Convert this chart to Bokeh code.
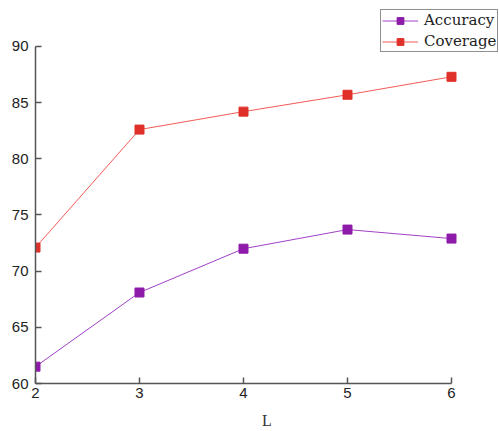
from bokeh.plotting import figure
from bokeh.models import Range1d, Legend, LegendItem, FixedTicker
from bokeh.embed import file_html
from bokeh.resources import INLINE

L = [2, 3, 4, 5, 6]
accuracy = [61.5, 68.1, 72.0, 73.7, 72.9]
coverage = [72.1, 82.6, 84.2, 85.7, 87.3]
y_ticks = [60, 65, 70, 75, 80, 85, 90]

p = figure(width=499, height=431, output_backend="svg", toolbar_location=None,
           x_range=Range1d(2, 6.452), y_range=Range1d(60, 93.38),
           min_border_left=35, min_border_right=1, min_border_top=8, min_border_bottom=48)
p.outline_line_color = None
p.xgrid.visible = False
p.ygrid.visible = False

acc_line = p.line(L, accuracy, line_color="#a040c4", line_width=1)
acc_mk = p.scatter(L, accuracy, marker="square", size=9, fill_color="#8e1aaa", line_color="#8e1aaa")
cov_line = p.line(L, coverage, line_color="#f25a55", line_width=1)
cov_mk = p.scatter(L, coverage, marker="square", size=9, fill_color="#e0302a", line_color="#e0302a")

for ax in (p.xaxis[0], p.yaxis[0]):
    ax.axis_line_color = "#555555"
    ax.axis_line_width = 1.5
    ax.major_tick_line_color = "#555555"
    ax.major_tick_line_width = 1.5
    ax.major_tick_in = 6
    ax.major_tick_out = 0
    ax.minor_tick_line_color = None
    ax.major_label_text_font = "Liberation Sans"
    ax.major_label_text_font_size = "15px"
    ax.major_label_text_color = "#222222"

p.xaxis.bounds = (2, 6)
p.yaxis.bounds = (60, 90)
p.xaxis.ticker = FixedTicker(ticks=L)
p.yaxis.ticker = FixedTicker(ticks=y_ticks)
p.xaxis.major_label_standoff = 4
p.yaxis.major_label_standoff = 7
p.xaxis.axis_label = "L"
p.xaxis.axis_label_text_font = "Liberation Serif"
p.xaxis.axis_label_text_font_style = "normal"
p.xaxis.axis_label_text_font_size = "16px"
p.xaxis.axis_label_text_color = "#333333"
p.xaxis.axis_label_standoff = 11

legend = Legend(items=[
    LegendItem(label="Accuracy", renderers=[acc_line, acc_mk]),
    LegendItem(label="Coverage", renderers=[cov_line, cov_mk]),
], location=(345, 331))
legend.border_line_color = "#222222"
legend.border_line_width = 1
legend.background_fill_alpha = 1
legend.label_text_font = "DejaVu Serif"
legend.label_text_font_size = "15px"
legend.label_text_color = "#222222"
legend.glyph_width = 36
legend.glyph_height = 17
legend.label_height = 17
legend.label_standoff = 6
legend.padding = 1
legend.spacing = 3
legend.margin = 0
p.add_layout(legend, "center")

open("out.html", "w").write(file_html(p, INLINE))
